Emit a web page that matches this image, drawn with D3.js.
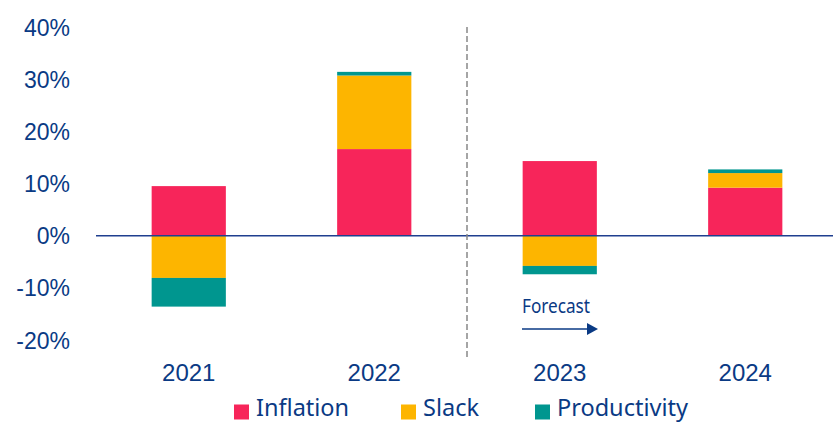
<!DOCTYPE html>
<html>
<head>
<meta charset="utf-8">
<script src="https://cdn.jsdelivr.net/npm/d3@7"></script>
<style>
  body { margin: 0; background: #fff; }
  svg { display: block; font-family: "Noto Sans", "Open Sans", sans-serif; }
</style>
</head>
<body>
<svg id="chart" width="833" height="423"></svg>
<script>
const years = ["2021", "2022", "2023", "2024"];
const inflation = [9.5, 16.6, 14.3, 9.2];
const slack = [-8.1, 14.1, -5.8, 2.8];
const productivity = [-5.5, 0.7, -1.6, 0.7];
const yTicks = [-20, -10, 0, 10, 20, 30, 40];
const seriesNames = ["Inflation", "Slack", "Productivity"];
const colors = ["#F7255A", "#FDB500", "#00968F"];
const textColor = "#0A3A84";

const svg = d3.select("#chart");
const x = d3.scaleBand().domain(years).range([96, 838]).paddingInner(0.6).paddingOuter(0.3);
const y = d3.scaleLinear().domain([-20, 40]).range([340, 27]);

const data = years.map((yr, i) => ({ year: yr, Inflation: inflation[i], Slack: slack[i], Productivity: productivity[i] }));
const stack = d3.stack().keys(seriesNames).offset(d3.stackOffsetDiverging);
const layers = stack(data);

svg.append("g").selectAll("g").data(layers).join("g")
  .attr("fill", (d, i) => colors[i])
  .selectAll("rect").data(d => d).join("rect")
  .attr("x", d => x(d.data.year))
  .attr("width", x.bandwidth())
  .attr("y", d => y(Math.max(d[0], d[1])))
  .attr("height", d => Math.abs(y(d[0]) - y(d[1])));

const yAxis = d3.axisLeft(y).tickValues(yTicks).tickFormat(d => d + "%").tickSize(0).tickPadding(0);
const yg = svg.append("g").attr("transform", "translate(70,0)").call(yAxis);
yg.select(".domain").remove();
yg.selectAll("text").attr("fill", textColor).attr("font-size", 23).attr("dy", "0.35em");

svg.append("line").attr("x1", 96).attr("x2", 833).attr("y1", y(0)).attr("y2", y(0))
  .attr("stroke", "#1F3F8F").attr("stroke-width", 1.5);

const xAxis = d3.axisBottom(x).tickSize(0).tickPadding(0);
const xg = svg.append("g").attr("transform", "translate(0,381)").call(xAxis);
xg.select(".domain").remove();
xg.selectAll("text").attr("fill", textColor).attr("font-size", 24).attr("dy", 0);

const divX = (x("2022") + x.bandwidth() + x("2023")) / 2;
svg.append("line").attr("x1", divX).attr("x2", divX).attr("y1", 27).attr("y2", 357)
  .attr("stroke", "#888").attr("stroke-width", 1.5).attr("stroke-dasharray", "6,3");

svg.append("text").attr("x", 522).attr("y", 313).attr("fill", textColor)
  .attr("font-size", 19).attr("textLength", 68).attr("lengthAdjust", "spacingAndGlyphs").text("Forecast");
svg.append("line").attr("x1", 522).attr("x2", 590).attr("y1", 329).attr("y2", 329)
  .attr("stroke", textColor).attr("stroke-width", 1.5);
svg.append("path").attr("d", "M587,323 L598,329 L587,335 Z").attr("fill", textColor);

const legendX = [234, 401, 535];
const lg = svg.append("g").selectAll("g").data(seriesNames).join("g")
  .attr("transform", (d, i) => `translate(${legendX[i]},0)`);
lg.append("rect").attr("x", 0).attr("y", 404.5).attr("width", 15).attr("height", 15)
  .attr("fill", (d, i) => colors[i]);
lg.append("text").attr("x", 22).attr("y", 416).attr("fill", textColor).attr("font-size", 23.5).text(d => d);
</script>
</body>
</html>
